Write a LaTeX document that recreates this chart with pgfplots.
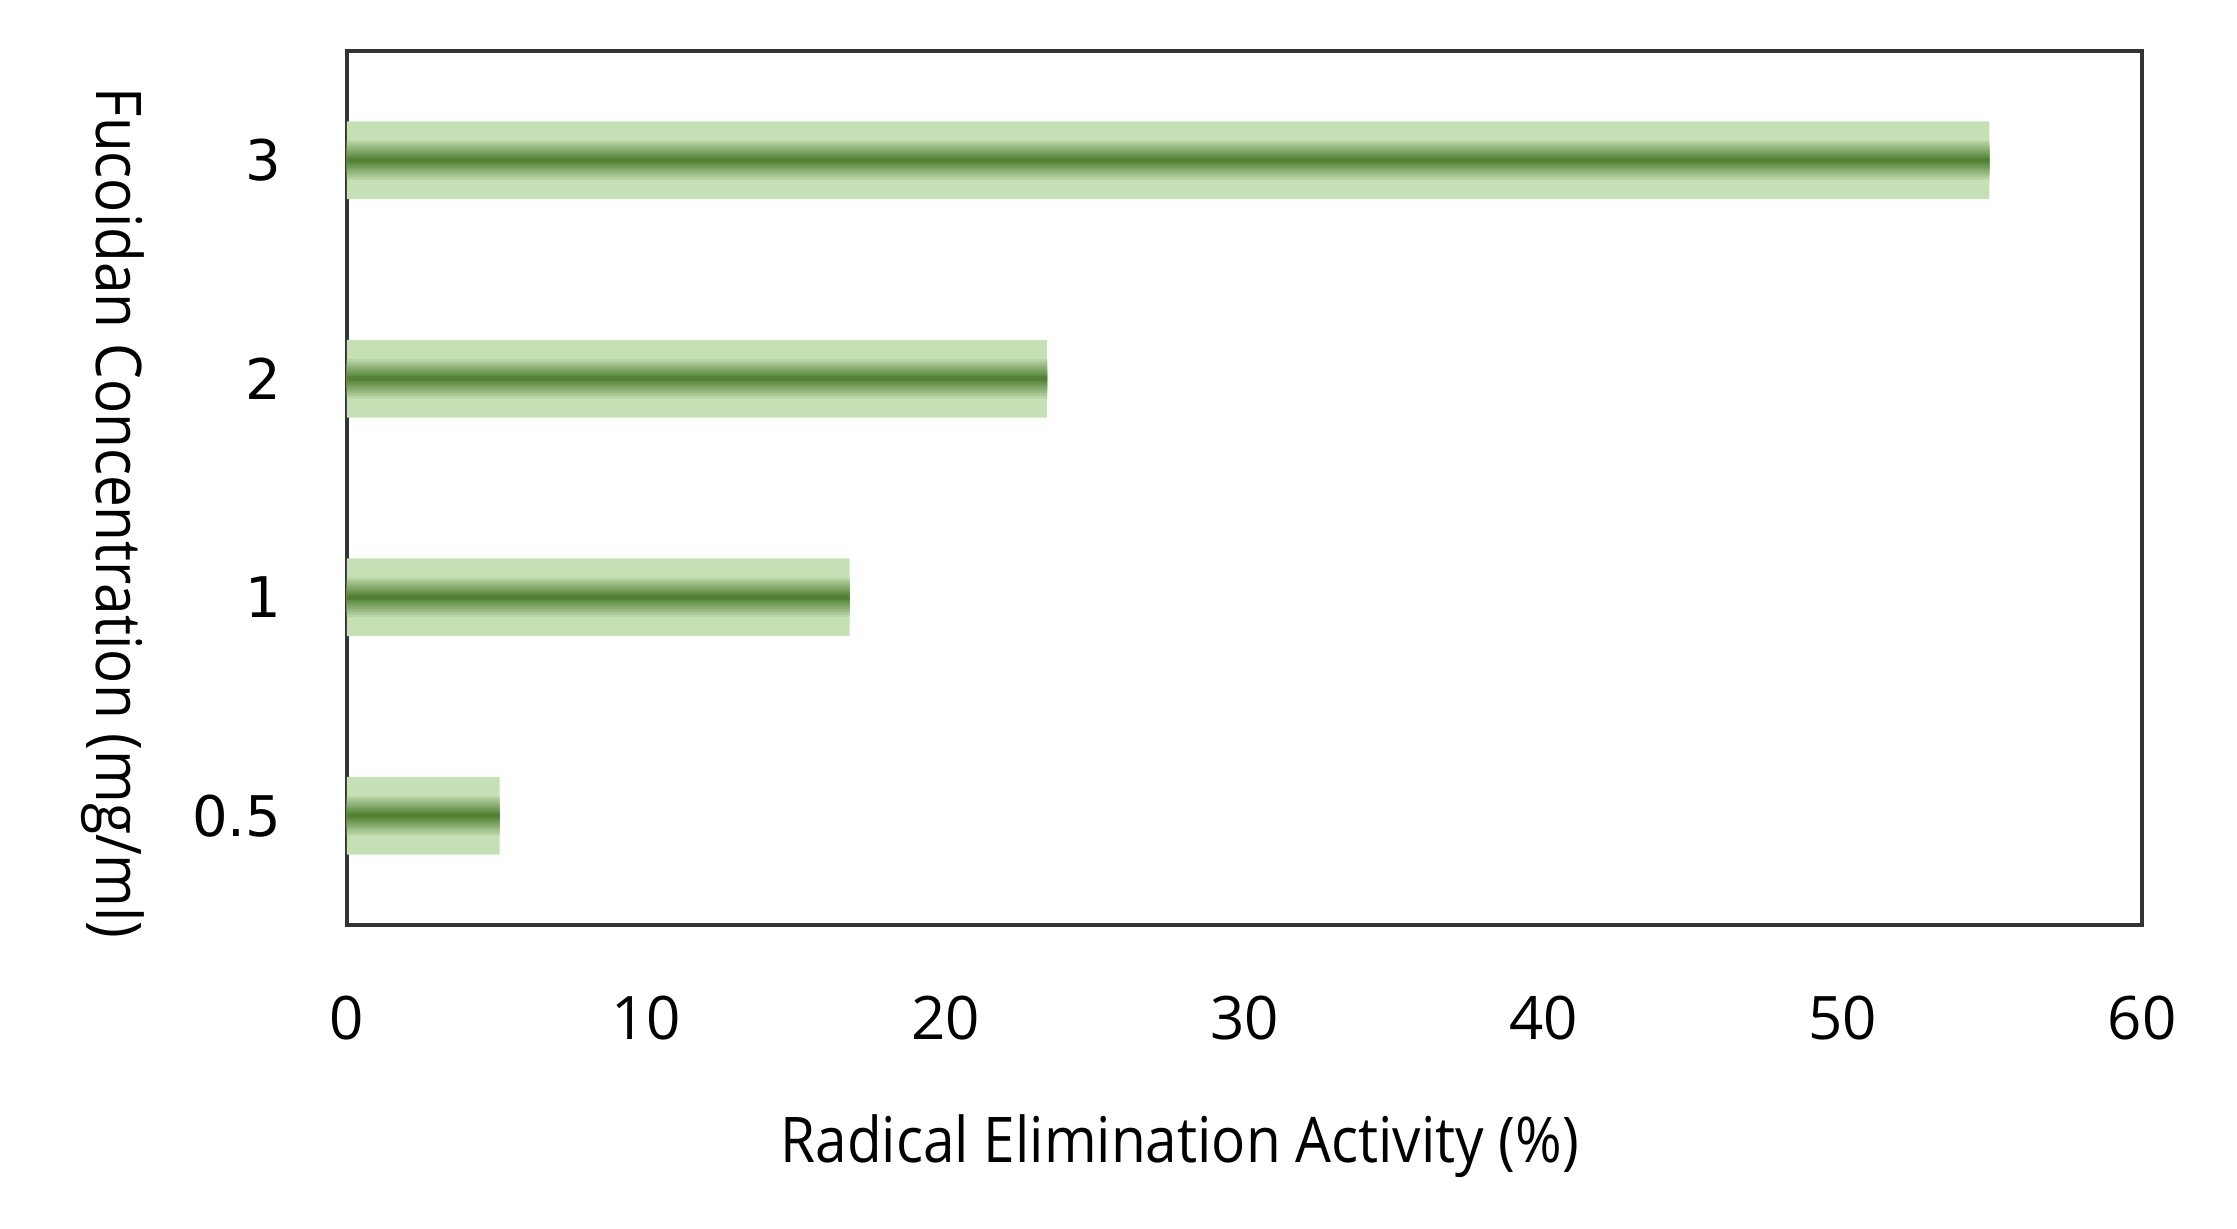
\documentclass[border=0pt]{standalone}
\usepackage{fontspec}
\usepackage{pgfplots}
\usepackage{pgfplotstable}
\pgfplotsset{compat=1.18}
\usetikzlibrary{calc}
\setmainfont{Open Sans}
\newfontfamily\labelfont[FakeStretch=0.9]{Open Sans}
\newfontfamily\yfont{DejaVu Sans}
\definecolor{barlight}{HTML}{C5E0B4}
\definecolor{bardark}{HTML}{548235}

\pgfplotstableread{
val  cat
5.1  0
16.8 1
23.4 2
54.9 3
}\datatable

\begin{document}
\begin{tikzpicture}
\begin{axis}[%
  name=ax,
  scale only axis,
  width=448.75pt, height=218.5pt,
  xmin=0, xmax=60, ymin=-0.5, ymax=3.5,
  xtick={0,10,...,60},
  ytick={0,1,2,3},
  yticklabels={0.5,1,2,3},
  major tick length=0pt,
  axis line style={black!80, line width=1pt},
  /pgf/number format/assume math mode=true,
  xticklabel style={font=\fontsize{15}{18}\selectfont, anchor=north, inner sep=0pt, yshift=-17.5pt},
  yticklabel style={font=\yfont\fontsize{14}{17}\selectfont, anchor=east, inner sep=0pt, xshift=-16.25pt},
  every axis x label/.style={at={(axis description cs:0.464,-0.272)}, anchor=base,
    font=\labelfont\fontsize{15.75}{19}\selectfont},
  every axis y label/.style={at={(axis description cs:-0.1393,0.471)}, anchor=base, rotate=-90,
    font=\labelfont\fontsize{15.75}{19}\selectfont},
  xlabel={Radical Elimination Activity (\%)},
  ylabel={Fucoidan Concentration (mg/ml)},
  barlayer/.style={xbar, bar shift=0pt, draw=none},
]
% outer light band
\addplot[barlayer, bar width=0.355, fill=barlight] table[x=val,y=cat] {\datatable};
% stepped dark core, light at the edges, dark in the middle
\addplot[barlayer, bar width=0.180, fill=bardark!12!barlight] table[x=val,y=cat] {\datatable};
\addplot[barlayer, bar width=0.158, fill=bardark!25!barlight] table[x=val,y=cat] {\datatable};
\addplot[barlayer, bar width=0.135, fill=bardark!37!barlight] table[x=val,y=cat] {\datatable};
\addplot[barlayer, bar width=0.113, fill=bardark!50!barlight] table[x=val,y=cat] {\datatable};
\addplot[barlayer, bar width=0.090, fill=bardark!62!barlight] table[x=val,y=cat] {\datatable};
\addplot[barlayer, bar width=0.068, fill=bardark!75!barlight] table[x=val,y=cat] {\datatable};
\addplot[barlayer, bar width=0.045, fill=bardark!87!barlight] table[x=val,y=cat] {\datatable};
\addplot[barlayer, bar width=0.023, fill=bardark] table[x=val,y=cat] {\datatable};
\end{axis}
\pgfresetboundingbox
\path[use as bounding box] ($(ax.south west)+(-86.75pt,-76pt)$) rectangle ($(ax.north east)+(23.75pt,12.75pt)$);
\end{tikzpicture}
\end{document}
